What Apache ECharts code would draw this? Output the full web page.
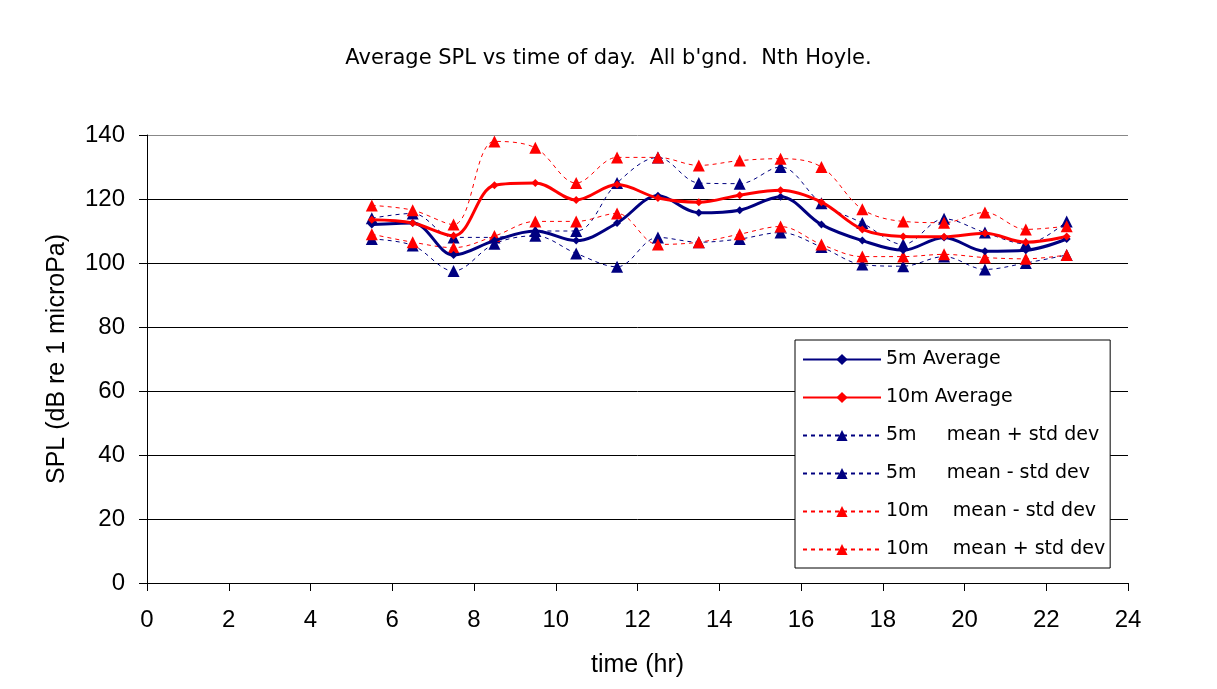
<!DOCTYPE html>
<html><head><meta charset="utf-8">
<script src="https://cdn.jsdelivr.net/npm/echarts@6/dist/echarts.min.js"></script>
<style>html,body{margin:0;padding:0;background:#fff}#c{width:1217px;height:689px}</style>
</head><body><div id="c"></div>
<script>
const hours = [5.5,6.5,7.5,8.5,9.5,10.5,11.5,12.5,13.5,14.5,15.5,16.5,17.5,18.5,19.5,20.5,21.5,22.5];
const avg5m   = [112,112.5,102.5,107,110,107,112.5,121,115.7,116.5,120.7,112,107,104,108,103.7,104,107.5];
const avg10m  = [113.5,112.5,108.5,124.3,125,119.7,124.5,120.3,119,121.2,122.7,119,110.5,108.3,108.2,109.3,106.5,108.3];
const plus5m  = [114,115.5,108,108,110,110,125,133,125,124.8,130,118.7,112.5,105.8,113.8,109.5,106,113];
const minus5m = [107.5,105.5,97.5,106,108.5,103,98.8,108,106.5,107.5,109.5,105,99.5,99,102,98,100,102.5];
const minus10m= [109,106.5,104.8,108.4,113,113,115.5,105.8,106.5,109,111.4,105.8,102,102,102.7,101.7,101.3,102.5];
const plus10m = [118,116.5,112,138,136,125,133,133,130.5,132,132.6,130,116.8,113,112.6,115.8,110.5,111.5];
const seriesNames = ['5m Average','10m Average','5m     mean + std dev','5m     mean - std dev','10m    mean - std dev','10m    mean + std dev'];
const xTicks = [0,24,2];
const yTicks = [0,140,20];
const NAVY = '#000080', RED = '#ff0000';
const FONT = "'Liberation Sans', Arial, sans-serif";
const WIDE = "'DejaVu Sans', sans-serif";
const pairs = arr => hours.map((h,i)=>[h,arr[i]]);

function avgSeries(name, arr, color){
  return {name, type:'line', data:pairs(arr), smooth:0.35, symbol:'diamond', symbolSize:8,
    lineStyle:{color, width:3}, itemStyle:{color}, z:5};
}
function devSeries(name, arr, color){
  return {name, type:'line', data:pairs(arr), smooth:0.35, symbol:'triangle', symbolSize:12,
    lineStyle:{color, width:1, type:[4,4]}, itemStyle:{color}, z:3};
}

const chart = echarts.init(document.getElementById('c'));
chart.setOption({
  backgroundColor:'#ffffff',
  animation:false,
  title:{text:"Average SPL vs time of day.  All b'gnd.  Nth Hoyle.", left:'center', top:43,
    textStyle:{fontFamily:WIDE, fontSize:21, fontWeight:'normal', color:'#000'}},
  grid:{left:147, right:89, top:135, bottom:106},
  legend:{orient:'vertical', left:795, top:340, itemWidth:78, itemHeight:14, itemGap:19,
    padding:[10,5,9,7], borderColor:'#000', borderWidth:1, backgroundColor:'#fff',
    textStyle:{fontFamily:WIDE, fontSize:19, color:'#000'},
    data:seriesNames},
  xAxis:{type:'value', min:xTicks[0], max:xTicks[1], interval:xTicks[2],
    name:'time (hr)', nameLocation:'middle', nameGap:70,
    nameTextStyle:{fontFamily:FONT, fontSize:25, color:'#000'},
    axisLine:{lineStyle:{color:'#000', width:1}}, axisTick:{show:true, length:8, lineStyle:{color:'#000'}},
    axisLabel:{fontFamily:FONT, fontSize:24, color:'#000', margin:25}, splitLine:{show:false}},
  yAxis:{type:'value', min:yTicks[0], max:yTicks[1], interval:yTicks[2],
    name:'SPL (dB re 1 microPa)', nameLocation:'middle', nameGap:77,
    nameTextStyle:{fontFamily:FONT, fontSize:25, color:'#000'},
    axisLine:{show:true, lineStyle:{color:'#000', width:1}}, axisTick:{show:true, length:8, lineStyle:{color:'#000'}},
    axisLabel:{fontFamily:FONT, fontSize:24, color:'#000', margin:22},
    splitLine:{show:true, lineStyle:{color:['#000','#000','#000','#000','#000','#000','#000','#888'], width:1}}},
  series:[
    avgSeries(seriesNames[0], avg5m, NAVY),
    avgSeries(seriesNames[1], avg10m, RED),
    devSeries(seriesNames[2], plus5m, NAVY),
    devSeries(seriesNames[3], minus5m, NAVY),
    devSeries(seriesNames[4], minus10m, RED),
    devSeries(seriesNames[5], plus10m, RED)
  ]
});
</script></body></html>
